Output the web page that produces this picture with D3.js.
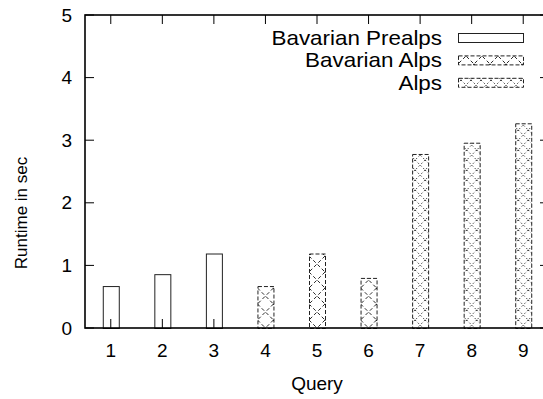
<!DOCTYPE html>
<html>
<head>
<meta charset="utf-8">
<script src="https://cdn.jsdelivr.net/npm/d3@7"></script>
<style>
  html, body { margin: 0; padding: 0; background: #fff; }
  svg { display: block; }
  text { font-family: "Liberation Sans", Arial, Helvetica, sans-serif; fill: #000; }
</style>
</head>
<body>
<svg id="chart" width="543" height="399"></svg>
<script>
// Queries on the x axis
const queries = ["1", "2", "3", "4", "5", "6", "7", "8", "9"];

// Runtime (sec) per region; each region covers three queries
const seriesNames = ["Bavarian Prealps", "Bavarian Alps", "Alps"];
const prealpsQueries = ["1", "2", "3"];
const prealpsValues = [0.67, 0.86, 1.19];
const bavAlpsQueries = ["4", "5", "6"];
const bavAlpsValues = [0.67, 1.19, 0.80];
const alpsQueries = ["7", "8", "9"];
const alpsValues = [2.78, 2.96, 3.27];

const yTicks = [0, 1, 2, 3, 4, 5];

const series = [
  { name: seriesNames[0], key: "prealps", queries: prealpsQueries, values: prealpsValues },
  { name: seriesNames[1], key: "bavalps", queries: bavAlpsQueries, values: bavAlpsValues },
  { name: seriesNames[2], key: "alps", queries: alpsQueries, values: alpsValues }
];

const svg = d3.select("#chart");
const margin = { left: 85, top: 15, right: 549, bottom: 328 };

const x = d3.scaleBand().domain(queries).range([margin.left, margin.right]).paddingInner(0).paddingOuter(0);
const y = d3.scaleLinear().domain([0, 5]).range([margin.bottom, margin.top]);

const barW = 16;
const tickFont = 19;
const titleFont = 17;
const legendFont = 20;

const defs = svg.append("defs");

// crosshatch fill: diagonal dashed lines in both directions
function hatch(id, offsetX, size, dash, width) {
  const p = defs.append("pattern")
    .attr("id", id)
    .attr("patternUnits", "userSpaceOnUse")
    .attr("x", offsetX).attr("y", 0)
    .attr("width", size).attr("height", size);
  p.append("rect").attr("width", size).attr("height", size).attr("fill", "#fff");
  p.append("path")
    .attr("d", `M0,0L${size},${size}M${size},0L0,${size}`)
    .attr("stroke", "#111").attr("stroke-width", width)
    .attr("stroke-dasharray", dash).attr("fill", "none");
}

function fillFor(key, id, left) {
  if (key === "prealps") return "none";
  if (key === "bavalps") { hatch(id, left + barW / 2 - 8, 16, "3.5,2.5", 0.9); }
  else { hatch(id, left + barW / 2 - 5, 10, "1.6,2.2", 0.8); }
  return `url(#${id})`;
}

// axis ticks (inward, on all four sides)
const tickLen = 9;
const ticks = svg.append("g").attr("stroke", "#000").attr("stroke-width", 1);
queries.forEach(q => {
  const cx = x(q) + x.bandwidth() / 2;
  ticks.append("line").attr("x1", cx).attr("x2", cx).attr("y1", margin.bottom).attr("y2", margin.bottom - tickLen);
  ticks.append("line").attr("x1", cx).attr("x2", cx).attr("y1", margin.top).attr("y2", margin.top + tickLen);
});
yTicks.forEach(t => {
  ticks.append("line").attr("x1", margin.left).attr("x2", margin.left + tickLen).attr("y1", y(t)).attr("y2", y(t));
  ticks.append("line").attr("x1", margin.right).attr("x2", margin.right - tickLen).attr("y1", y(t)).attr("y2", y(t));
});

// bars
series.forEach(s => {
  const g = svg.append("g");
  s.queries.forEach((q, i) => {
    const left = x(q) + x.bandwidth() / 2 - barW / 2;
    const fill = fillFor(s.key, `pat-${s.key}-${q}`, left);
    g.append("rect")
      .attr("x", left + 0.5)
      .attr("y", y(s.values[i]) + 0.5)
      .attr("width", barW)
      .attr("height", y(0) - y(s.values[i]))
      .attr("fill", fill)
      .attr("stroke", "#222")
      .attr("stroke-width", 1)
      .attr("stroke-dasharray", s.key === "prealps" ? null : "4,2");
  });
});

// frame
svg.append("rect")
  .attr("x", margin.left).attr("y", margin.top)
  .attr("width", margin.right - margin.left).attr("height", margin.bottom - margin.top)
  .attr("fill", "none").attr("stroke", "#000").attr("stroke-width", 1.6);

// tick labels
svg.append("g").selectAll("text").data(queries).join("text")
  .attr("x", d => x(d) + x.bandwidth() / 2)
  .attr("y", 357)
  .attr("text-anchor", "middle")
  .attr("font-size", tickFont)
  .text(d => d);

svg.append("g").selectAll("text").data(yTicks).join("text")
  .attr("x", 72)
  .attr("y", d => y(d))
  .attr("dy", "0.35em")
  .attr("text-anchor", "end")
  .attr("font-size", tickFont)
  .text(d => d);

// axis titles
svg.append("text")
  .attr("x", 317).attr("y", 390)
  .attr("text-anchor", "middle")
  .attr("font-size", tickFont)
  .text("Query");

svg.append("text")
  .attr("transform", "translate(27,213) rotate(-90)")
  .attr("text-anchor", "middle")
  .attr("font-size", titleFont)
  .text("Runtime in sec");

// legend: wide key text, right-aligned against the samples
const legend = svg.append("g");
series.forEach((s, i) => {
  const cy = 38 + i * 22.4;
  legend.append("text")
    .attr("transform", `translate(442,${cy}) scale(1.12,1)`)
    .attr("dy", "0.35em")
    .attr("text-anchor", "end")
    .attr("font-size", legendFont)
    .text(s.name);
  const lx = 458;
  const fill = fillFor(s.key, `pat-legend-${s.key}`, lx);
  legend.append("rect")
    .attr("x", lx + 0.5).attr("y", cy - 4.5)
    .attr("width", 65).attr("height", 9)
    .attr("fill", fill)
    .attr("stroke", "#222").attr("stroke-width", 1)
    .attr("stroke-dasharray", s.key === "prealps" ? null : "4,2");
});
</script>
</body>
</html>
